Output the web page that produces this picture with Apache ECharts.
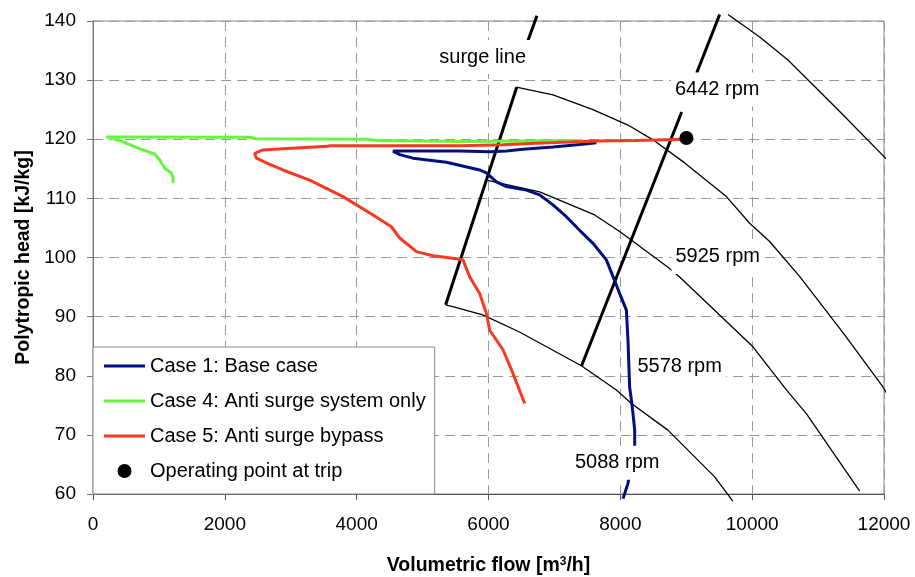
<!DOCTYPE html>
<html>
<head>
<meta charset="utf-8">
<script src="https://cdn.jsdelivr.net/npm/echarts@6/dist/echarts.min.js"></script>
<style>
  html, body { margin: 0; padding: 0; background: #fff; }
  #chart { width: 915px; height: 577px; }
</style>
</head>
<body>
<div id="chart"></div>
<script>
// measured traces, [flow m3/h, head kJ/kg]
const case1Base = [[7637,119.4],[7383,119.1],[6978,118.7],[6523,118.3],[6271,118.0],[6018,117.9],[5563,118.0],[4551,118.0],
  [4527,117.7],[4653,117.4],[4854,116.8],[5361,116.1],[5866,114.8],[5968,114.3],[6120,112.8],[6271,112.0],[6575,111.4],
  [6776,110.6],[6978,108.9],[7181,106.9],[7383,104.6],[7585,102.4],[7788,99.6],[7888,96.8],[7990,93.9],[8092,91.1],
  [8116,86.0],[8141,78.1],[8168,75.9],[8192,73.6],[8218,70.8],[8218,68.3],[8116,61.8],[8066,60.1],[8040,59.2]]
const case4AntiSurge = [[7433,119.8],[5563,119.6],[4299,119.8],[4148,120.0],[2479,120.1],[2377,120.35],[203,120.4],[177,120.3],
  [405,119.8],[683,118.5],[936,117.5],[1012,116.5],[1088,115.1],[1189,114.3],[1214,113.5],[1214,112.6]]
const case5Bypass = [[9002,120.0],[8218,119.8],[7687,119.7],[7433,119.6],[6625,119.3],[6220,119.05],[5563,118.9],[3591,118.9],
  [3560,118.8],[2882,118.4],[2579,118.2],[2453,117.6],[2479,116.8],[2630,116.0],[2882,114.8],[3287,113.1],[3793,110.3],
  [4248,107.2],[4527,105.2],[4653,103.3],[4906,101.0],[5158,100.3],[5513,99.8],[5613,99.6],[5714,96.75],[5866,93.9],
  [5968,90.55],[6018,87.7],[6220,84.4],[6371,80.4],[6549,75.3]]
const tripPoint = [[9002,120.2]]

// compressor map
const speedA = [[5350,92.0],[5487,91.6],[5912,90.3],[6470,87.4],[7409,81.7],[7940,77.6],[8168,75.3],[8722,70.8],[9431,62.9],[9706,58.8]]
const speedB = [[5968,113.1],[6776,111.1],[7611,107.2],[7990,104.4],[8718,98.4],[8900,96.7],[10012,84.9],[10519,77.6],[10822,73.6],[11631,60.5]]
const speedC = [[6423,128.8],[6978,127.5],[7585,125.0],[8116,122.4],[8495,119.9],[8976,116.0],[9609,110.3],[9962,105.8],
  [10265,102.7],[10720,96.8],[11403,86.9],[11984,78.1],[12112,75.8]]
const speedD = [[9633,141.1],[10114,137.3],[10543,133.4],[11302,125.0],[12112,115.8]]
const surgeParts = [
  [[5350,92.0],[6428,128.8]],
  [[6599,136.7],[6735,140.9]],
  [[7409,81.6],[8931,124.6]],
  [[9158,131.2],[9507,141.1]]
]
const mapLabels = [
  {name: 'surge line', value: [5912,133.9]},
  {name: '6442 rpm', value: [9469,128.4]},
  {name: '5925 rpm', value: [9477,100.1]},
  {name: '5578 rpm', value: [8900,81.5]},
  {name: '5088 rpm', value: [7952,65.3]}
]

const font = 'Liberation Sans, Arial, sans-serif'
const lineIcon = 'path://M0,0H41V3H0Z'

let series = []
;[speedA, speedB, speedC, speedD].forEach(function (d, i) {
    series.push({
        name: 'speed' + i, type: 'line', data: d, symbol: 'none', clip: false, silent: true,
        lineStyle: {color: '#000', width: 1.3}, z: 2
    })
})
surgeParts.forEach(function (d, i) {
    series.push({
        name: 'surge' + i, type: 'line', data: d, symbol: 'none', clip: false, silent: true,
        lineStyle: {color: '#000', width: 3}, z: 2
    })
})
series.push(
    {name: 'Case 4: Anti surge system only', type: 'line', data: case4AntiSurge, symbol: 'none', clip: false,
        lineStyle: {color: '#66f540', width: 3}, itemStyle: {color: '#66f540'}, z: 3},
    {name: 'Case 1: Base case', type: 'line', data: case1Base, symbol: 'none', clip: false,
        lineStyle: {color: '#00107f', width: 3}, itemStyle: {color: '#00107f'}, z: 3},
    {name: 'Case 5: Anti surge bypass', type: 'line', data: case5Bypass, symbol: 'none', clip: false,
        lineStyle: {color: '#f53a24', width: 3}, itemStyle: {color: '#f53a24'}, z: 3},
    {name: 'Operating point at trip', type: 'scatter', data: tripPoint, symbol: 'circle', symbolSize: 14, clip: false,
        itemStyle: {color: '#000', opacity: 1}, z: 4},
    {name: 'labels', type: 'scatter', data: mapLabels, symbolSize: 1, silent: true, clip: false,
        itemStyle: {color: 'rgba(0,0,0,0)', opacity: 1}, z: 10,
        label: {show: true, position: 'inside', formatter: function (p) { return p.name },
            color: '#000', opacity: 1, fontSize: 20, fontFamily: font, backgroundColor: '#fff', padding: [7, 4]}}
)

let option = {
    animation: false,
    backgroundColor: '#fff',
    grid: {left: 93, right: 31, top: 21, bottom: 83, show: true, borderColor: '#888', borderWidth: 1,
        outerBoundsMode: 'none'},
    legend: {
        data: [
            {name: 'Case 1: Base case', icon: lineIcon},
            {name: 'Case 4: Anti surge system only', icon: lineIcon},
            {name: 'Case 5: Anti surge bypass', icon: lineIcon},
            {name: 'Operating point at trip', icon: 'circle'}
        ],
        orient: 'vertical', left: 93, top: 347, itemWidth: 41, itemHeight: 14, itemGap: 15,
        padding: [9, 9, 13, 11], backgroundColor: '#fff', borderColor: '#888', borderWidth: 1,
        selectedMode: false, textStyle: {fontSize: 20, color: '#000', fontFamily: font}
    },
    xAxis: {
        type: 'value', min: 0, max: 12000, interval: 2000,
        name: 'Volumetric flow [m{sup|3}/h]', nameLocation: 'middle', nameGap: 62,
        nameTextStyle: {fontSize: 19.5, fontWeight: 'bold', color: '#000', fontFamily: font,
            rich: {sup: {fontSize: 12, fontWeight: 'bold', verticalAlign: 'top', padding: [0, 0, 8, 0]}}},
        axisLine: {lineStyle: {color: '#555', width: 1}},
        axisTick: {show: true, length: 6, lineStyle: {color: '#555'}},
        axisLabel: {fontSize: 19, color: '#000', fontFamily: font, margin: 21,
            formatter: function (v) { return String(v) }},
        splitLine: {show: true, lineStyle: {color: '#999', type: [10, 6], width: 1}}
    },
    yAxis: {
        type: 'value', min: 60, max: 140, interval: 10,
        name: 'Polytropic head [kJ/kg]', nameLocation: 'middle', nameGap: 59,
        nameTextStyle: {fontSize: 19.5, fontWeight: 'bold', color: '#000', fontFamily: font},
        axisLine: {show: true, lineStyle: {color: '#777', width: 1}},
        axisTick: {show: true, length: 6, lineStyle: {color: '#777'}},
        axisLabel: {fontSize: 19, color: '#000', fontFamily: font, margin: 17},
        splitLine: {show: true, lineStyle: {color: '#999', type: [10, 6], width: 1}}
    },
    series: series
}

let mychart = echarts.init(document.getElementById('chart'))
mychart.setOption(option)
</script>
</body>
</html>
